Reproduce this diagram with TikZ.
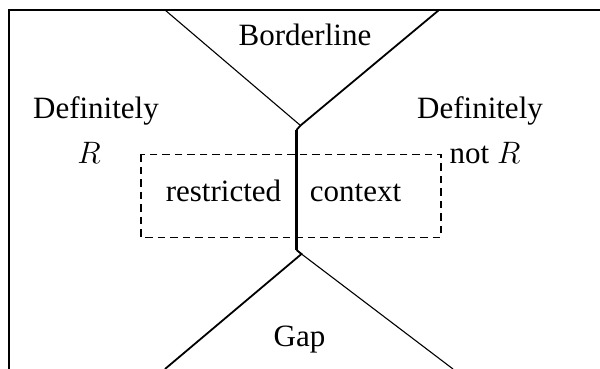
\documentclass[tikz,border=0pt]{standalone}
\usepackage{fontspec}
\setmainfont{Liberation Serif}
\newcommand{\bigR}{\scalebox{1.246}{$R$}}
\begin{document}
\begin{tikzpicture}[x=1pt,y=-1pt,
  lbl/.style={anchor=base,inner sep=0pt,font=\fontsize{31}{36}\selectfont},
  thinline/.style={line width=1.1pt},
  medline/.style={line width=1.8pt},
  thickline/.style={line width=2.7pt},
  frameline/.style={line width=1.6pt},
  boxline/.style={line width=1.5pt,dash pattern=on 7.5pt off 5pt}]
\useasboundingbox (0,0) rectangle (600,369);
% frame
\coordinate (fbl) at (9,369);
\coordinate (ftl) at (9,10);
\coordinate (ftr) at (600,10);
\draw[frameline] (fbl) -- (ftl) -- (ftr);
% junctions
\coordinate (tl) at (165,10);
\coordinate (tr) at (439,10);
\coordinate (jt) at (300.5,125.5);
\coordinate (vt) at (296.5,130);
\coordinate (vb) at (296.5,250);
\coordinate (jb) at (301.5,254);
\coordinate (bl) at (165,369);
\coordinate (br) at (453,369);
\draw[thinline] (tl) -- (jt);
\draw[medline] (tr) -- (jt) -- (vt);
\draw[thickline] (vt) -- (vb);
\draw[medline] (vb) -- (jb) -- (bl);
\draw[thinline] (jb) -- (br);
% dashed box
\coordinate (b1) at (141,154.3);
\coordinate (b2) at (441,237.5);
\draw[boxline] (b1) rectangle (b2);
% labels
\node[lbl] (border) at (305,46) {Borderline};
\node[lbl] (defl) at (96,118) {Definitely};
\node[lbl] (rl) at (89,163) {\bigR};
\node[lbl] (defr) at (480,118) {Definitely};
\node[lbl] (notr) at (485,163) {not \bigR};
\node[lbl] (restr) at (223.5,201) {restricted};
\node[lbl] (cont) at (355.5,201) {context};
\node[lbl] (gap) at (299.5,346) {Gap};
\end{tikzpicture}
\end{document}
